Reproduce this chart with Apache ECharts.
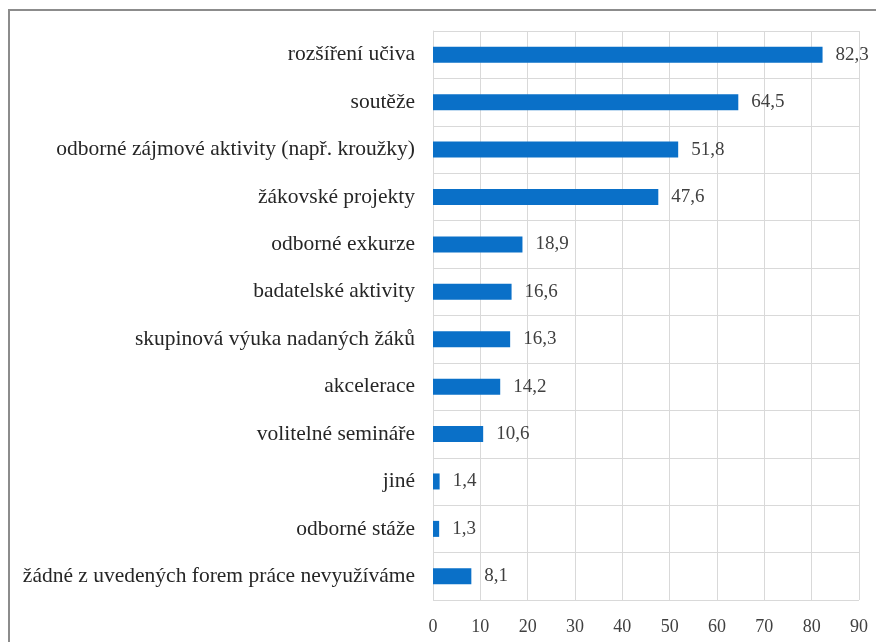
<!DOCTYPE html>
<html>
<head>
<meta charset="utf-8">
<script src="https://cdn.jsdelivr.net/npm/echarts@6/dist/echarts.min.js"></script>
<style>
  html, body { margin: 0; padding: 0; background: #fff; }
  #frame {
    position: absolute; left: 8px; top: 9px; width: 900px; height: 700px;
    border: 2px solid #8c8c8c; box-sizing: border-box;
  }
  #chart { position: absolute; left: 0; top: 0; width: 876px; height: 642px; }
</style>
</head>
<body>
<div id="frame"></div>
<div id="chart"></div>
<script>
const categories = [
  'rozšíření učiva',
  'soutěže',
  'odborné zájmové aktivity (např. kroužky)',
  'žákovské projekty',
  'odborné exkurze',
  'badatelské aktivity',
  'skupinová výuka nadaných žáků',
  'akcelerace',
  'volitelné semináře',
  'jiné',
  'odborné stáže',
  'žádné z uvedených forem práce nevyužíváme'
];
const values = [82.3, 64.5, 51.8, 47.6, 18.9, 16.6, 16.3, 14.2, 10.6, 1.4, 1.3, 8.1];

const chart = echarts.init(document.getElementById('chart'));
const font = '"Liberation Serif", "DejaVu Serif", serif';

chart.setOption({
  animation: false,
  grid: { left: 433, right: 17, top: 31, bottom: 42, containLabel: false },
  xAxis: {
    type: 'value',
    min: 0, max: 90, interval: 10,
    axisLine: { show: false },
    axisTick: { show: false },
    splitLine: { show: true, lineStyle: { color: '#d9d9d9', width: 1 } },
    axisLabel: {
      margin: 18,
      color: '#404040', fontFamily: font, fontSize: 18
    }
  },
  yAxis: {
    type: 'category',
    inverse: true,
    data: categories,
    axisLine: { show: true, lineStyle: { color: '#d9d9d9' } },
    axisTick: { show: false },
    splitLine: { show: true, lineStyle: { color: '#d9d9d9', width: 1 } },
    axisLabel: {
      margin: 18,
      color: '#262626', fontFamily: font, fontSize: 21.5
    }
  },
  series: [{
    type: 'bar',
    data: values,
    barWidth: 16,
    itemStyle: { color: '#0a70c8' },
    label: {
      show: true,
      position: 'right',
      distance: 13,
      color: '#404040', fontFamily: font, fontSize: 19,
      formatter: p => String(p.value).replace('.', ',')
    }
  }]
});
</script>
</body>
</html>
